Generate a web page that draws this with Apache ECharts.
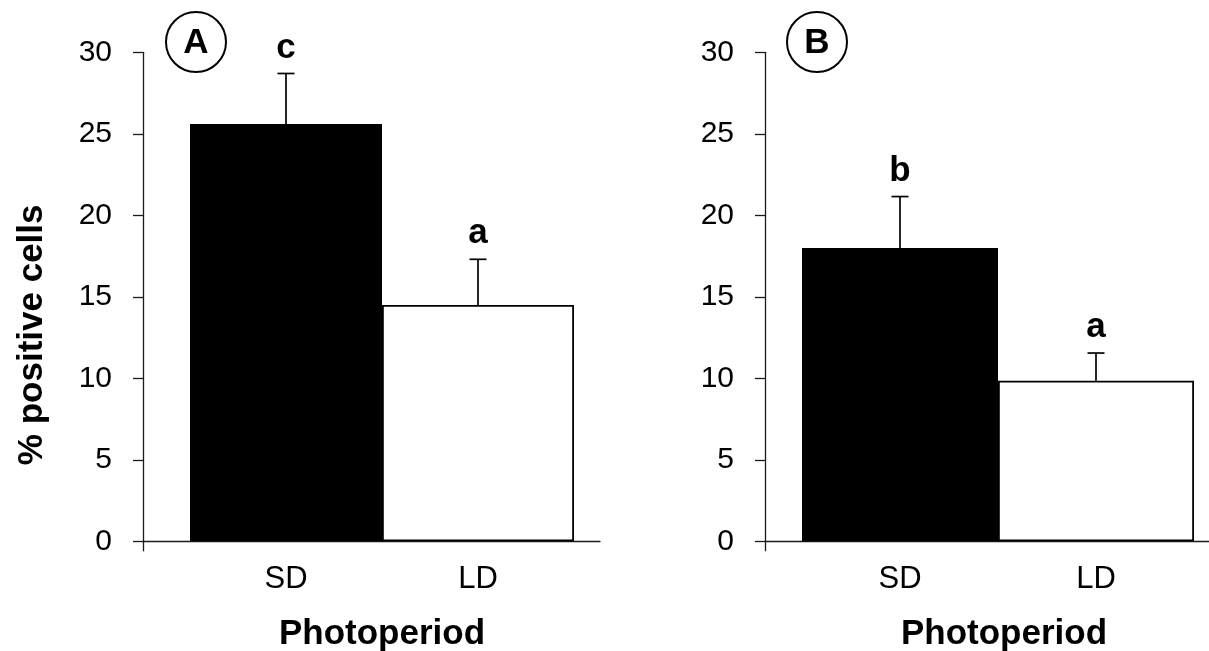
<!DOCTYPE html>
<html>
<head>
<meta charset="utf-8">
<script src="https://cdn.jsdelivr.net/npm/echarts@6/dist/echarts.min.js"></script>
<style>
html,body{margin:0;padding:0;background:#fff;}
#chart{width:1209px;height:651px;}
</style>
</head>
<body>
<div id="chart"></div>
<script>
// ---- data ----
const categories = ['SD', 'LD'];
const panelA_means = [25.6, 14.5];
const panelA_se = [3.1, 2.8];
const panelA_letters = ['c', 'a'];
const panelB_means = [18.0, 9.85];
const panelB_se = [3.15, 1.7];
const panelB_letters = ['b', 'a'];
const yMin = 0, yMax = 30, yInterval = 5;
const yTitle = '% positive cells';
const xTitle = 'Photoperiod';
const panelTags = ['A', 'B'];

// ---- layout / style ----
const FONT = '"Liberation Sans", Arial, sans-serif';
const TOP = 52.3, BOTTOM_Y = 541.3, H = BOTTOM_Y - TOP;
const AXIS_COLOR = '#1a1a1a';

const chart = echarts.init(document.getElementById('chart'), null, {renderer: 'canvas'});

function outerY(gi, withName) {
  return {
    type: 'value', gridIndex: gi, min: yMin, max: yMax, interval: yInterval,
    axisLine: {show: true, lineStyle: {color: AXIS_COLOR, width: 1.3}},
    axisTick: {show: true, inside: false, length: 10, lineStyle: {color: AXIS_COLOR, width: 1.3}},
    axisLabel: {show: true, margin: 31, fontFamily: FONT, fontSize: 30, color: '#000'},
    splitLine: {show: false},
    name: withName ? yTitle : '',
    nameLocation: 'middle', nameRotate: 90, nameGap: 93,
    nameTextStyle: {fontFamily: FONT, fontSize: 35, fontWeight: 'bold', color: '#000',
                    padding: [0, 76, 0, 0]}
  };
}
function innerY(gi) {
  return {type: 'value', gridIndex: gi, min: yMin, max: yMax, interval: yInterval, show: false};
}
function outerX(gi) {
  return {
    type: 'value', gridIndex: gi, min: 0, max: 1,
    axisLine: {show: true, lineStyle: {color: AXIS_COLOR, width: 1.3}},
    axisTick: {show: true, length: 10, customValues: [0], lineStyle: {color: AXIS_COLOR, width: 1.3}},
    axisLabel: {show: false},
    splitLine: {show: false}
  };
}
function innerX(gi, shift) {
  return {
    type: 'category', gridIndex: gi, data: categories, boundaryGap: true,
    axisLine: {show: false}, axisTick: {show: false},
    axisLabel: {show: true, margin: 23, fontFamily: FONT, fontSize: 31, color: '#000'},
    name: xTitle, nameLocation: 'middle', nameGap: 76,
    nameTextStyle: {fontFamily: FONT, fontSize: 35, fontWeight: 'bold', color: '#000',
                    padding: [0, 0, 0, shift]}
  };
}

function barSeries(ai, means) {
  return {
    type: 'bar', xAxisIndex: ai, yAxisIndex: ai, barCategoryGap: '0%', barGap: '0%',
    animation: false,
    data: means.map((v, i) => ({
      value: v,
      itemStyle: i === 0
        ? {color: '#000', borderColor: '#000', borderWidth: 0}
        : {color: '#fff', borderColor: '#000', borderWidth: 1.8}
    }))
  };
}

function errSeries(ai, means, se, letters) {
  return {
    type: 'custom', xAxisIndex: ai, yAxisIndex: ai, animation: false, z: 5,
    data: means.map((m, i) => [i, m, se[i]]),
    renderItem: function (params, api) {
      const idx = api.value(0), m = api.value(1), e = api.value(2);
      const p0 = api.coord([idx, m]);
      const p1 = api.coord([idx, m + e]);
      const cap = 8.5;
      return {
        type: 'group',
        children: [
          {type: 'line', shape: {x1: p0[0], y1: p0[1], x2: p1[0], y2: p1[1]},
           style: {stroke: '#000', lineWidth: 1.7}},
          {type: 'line', shape: {x1: p1[0] - cap, y1: p1[1], x2: p1[0] + cap, y2: p1[1]},
           style: {stroke: '#000', lineWidth: 1.7}},
          {type: 'text', x: p1[0], y: p1[1] - 8,
           style: {text: letters[params.dataIndex], font: 'bold 35px ' + FONT,
                   fill: '#000', align: 'center', verticalAlign: 'bottom'}}
        ]
      };
    }
  };
}

function tag(cx, cy, t) {
  return {
    type: 'group', children: [
      {type: 'circle', shape: {cx: cx, cy: cy, r: 30},
       style: {fill: '#fff', stroke: '#000', lineWidth: 2}},
      {type: 'text', x: cx, y: cy + 1,
       style: {text: t, font: 'bold 35px ' + FONT, fill: '#000', align: 'center', verticalAlign: 'middle'}}
    ]
  };
}

const gridBase = {top: TOP, height: H, containLabel: false, outerBoundsMode: 'none'};
const option = {
  backgroundColor: '#fff',
  animation: false,
  grid: [
    Object.assign({left: 143, width: 457}, gridBase),
    Object.assign({left: 190, width: 384}, gridBase),
    Object.assign({left: 765, width: 460}, gridBase),
    Object.assign({left: 802, width: 392}, gridBase)
  ],
  xAxis: [outerX(0), innerX(1, 0), outerX(2), innerX(3, 12)],
  yAxis: [outerY(0, true), innerY(1), outerY(2, false), innerY(3)],
  series: [
    barSeries(1, panelA_means),
    errSeries(1, panelA_means, panelA_se, panelA_letters),
    barSeries(3, panelB_means),
    errSeries(3, panelB_means, panelB_se, panelB_letters)
  ],
  graphic: [tag(196, 42, panelTags[0]), tag(817, 42, panelTags[1])]
};
chart.setOption(option);
</script>
</body>
</html>
